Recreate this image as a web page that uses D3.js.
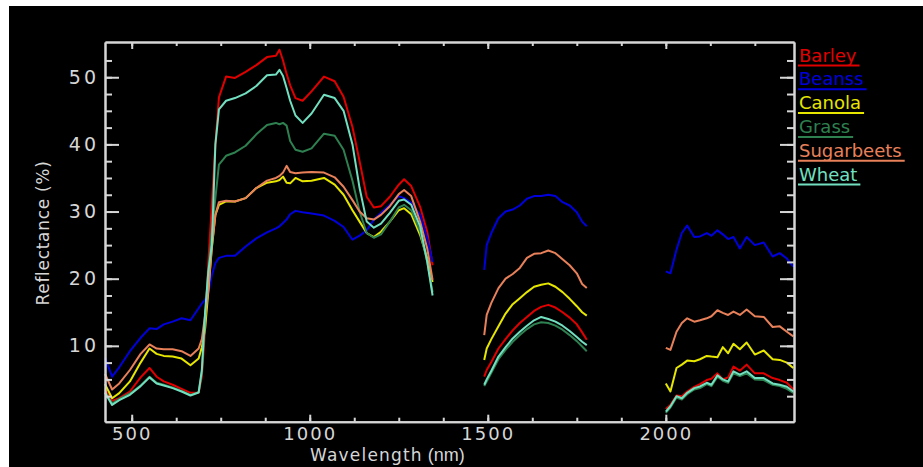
<!DOCTYPE html>
<html>
<head>
<meta charset="utf-8">
<script src="https://cdn.jsdelivr.net/npm/d3@7"></script>
<style>
  body { margin: 0; background: #ffffff; }
  svg { display: block; }
</style>
</head>
<body>
<div id="container"></div>
<script>
// Crop reflectance spectra, three measured bands with water-absorption gaps

//### DATA ###
const seriesNames = [ 'Barley', 'Beanss', 'Canola', 'Grass', 'Sugarbeets', 'Wheat' ];

//>>> Wavelength grids (nm) of the three bands
const wavelengthsVis = [ 425, 445, 465, 495, 525, 550, 570, 590, 615, 640, 665, 688, 697, 706, 715, 725, 735, 745, 765, 790, 820, 850, 880, 905, 915, 925, 935, 945, 960, 980, 1005, 1040, 1070, 1095, 1120, 1140, 1160, 1180, 1200, 1225, 1250, 1265, 1285, 1310, 1330, 1345 ];
const wavelengthsSwir1 = [ 1490, 1497, 1510, 1530, 1550, 1570, 1590, 1610, 1630, 1650, 1670, 1690, 1710, 1730, 1750, 1765, 1778 ];
const wavelengthsSwir2 = [ 2000, 2013, 2030, 2045, 2060, 2080, 2096, 2115, 2128, 2145, 2160, 2175, 2190, 2208, 2227, 2250, 2275, 2300, 2320, 2340, 2358 ];

//>>> Reflectance (%) per crop and band
const barleyVis = [ 3.5, 1.8, 2.2, 3.2, 5.3, 6.7, 5.4, 4.7, 4.2, 3.6, 3.0, 3.05, 5.4, 12.4, 22.3, 31, 40, 47, 50.1, 49.9, 50.8, 51.8, 53.0, 53.2, 54.1, 52.5, 50.5, 48.8, 46.9, 46.5, 47.9, 50.1, 49.4, 47.1, 42.6, 37.5, 32.2, 30.6, 30.8, 32.2, 34.0, 34.8, 33.8, 30.7, 27, 22 ];
const beansVis = [ 8.2, 5.4, 6.8, 9.2, 11.2, 12.6, 12.5, 13.2, 13.6, 14.1, 13.8, 15.6, 16.3, 16.9, 17.8, 20.5, 22.3, 23.1, 23.4, 23.4, 24.8, 26.0, 26.9, 27.5, 27.8, 28.3, 28.8, 29.6, 30.1, 29.9, 29.7, 29.4, 28.6, 27.7, 25.8, 26.4, 27.2, 28.8, 29.8, 31.0, 32.3, 32.0, 31.3, 29.5, 26, 22.5 ];
const canolaVis = [ 4.3, 2.2, 2.95, 4.7, 7.5, 9.6, 8.8, 8.5, 8.4, 8.1, 7.1, 8.1, 9.8, 12.5, 18, 24.5, 29.5, 31.0, 31.5, 31.5, 32.0, 33.5, 34.3, 34.5, 34.7, 35.2, 34.3, 34.2, 35.0, 34.5, 34.6, 35.0, 34.0, 32.5, 30.2, 28.5, 26.8, 26.2, 27.0, 28.5, 30.2, 30.5, 29.6, 26.5, 23, 19.5 ];
const grassVis = [ 3.2, 1.4, 2.1, 2.9, 4.1, 5.4, 4.5, 4.2, 3.8, 3.3, 2.7, 3.1, 6.0, 14, 21, 27, 32, 37.0, 38.3, 38.8, 39.8, 41.5, 42.9, 43.2, 43.0, 43.2, 42.8, 40.5, 39.2, 38.9, 39.4, 41.6, 41.3, 39.2, 34.6, 30.0, 26.8, 26.1, 26.6, 28.5, 30.6, 31.0, 30.2, 27.0, 22.5, 18 ];
const sugarbeetsVis = [ 5.8, 3.5, 4.4, 6.4, 8.8, 10.2, 9.6, 9.5, 9.5, 9.2, 8.5, 9.6, 11.0, 14.5, 18.3, 24.8, 29.5, 31.4, 31.6, 31.5, 32.0, 33.5, 34.6, 35.0, 35.3, 35.8, 36.8, 35.9, 35.7, 35.8, 35.9, 35.8, 35.1, 33.7, 31.7, 30.0, 29.0, 28.8, 29.5, 30.8, 32.6, 33.2, 32.3, 28.5, 24.5, 19.8 ];
const wheatVis = [ 3.0, 1.2, 1.9, 2.7, 4.0, 5.3, 4.4, 4.1, 3.7, 3.2, 2.6, 3.05, 6.4, 14.9, 21, 25, 40, 45.2, 46.5, 46.9, 47.6, 48.7, 50.3, 50.4, 51.1, 50.2, 48.4, 46.5, 44.3, 43.2, 44.6, 47.4, 46.9, 45.0, 40.0, 33.5, 28.5, 27.6, 28.2, 29.8, 31.6, 31.8, 31.0, 27.8, 22.5, 17.5 ];

const barleySwir1 = [ 5.4, 6.4, 7.6, 9.6, 11.0, 12.3, 13.4, 14.3, 15.2, 15.8, 16.1, 15.7, 15.0, 14.2, 13.2, 12.0, 10.9 ];
const beansSwir1 = [ 21.3, 25.0, 26.8, 29.0, 30.0, 30.3, 30.9, 31.9, 32.3, 32.3, 32.5, 32.3, 31.4, 30.9, 29.9, 28.5, 27.8 ];
const canolaSwir1 = [ 7.9, 9.6, 11.0, 12.9, 14.8, 16.2, 17.1, 18.0, 18.8, 19.1, 19.3, 18.8, 18.0, 17.0, 15.9, 15.0, 14.5 ];
const grassSwir1 = [ 4.0, 4.7, 6.0, 8.0, 9.4, 10.6, 11.6, 12.5, 13.2, 13.5, 13.4, 13.0, 12.4, 11.6, 10.7, 9.9, 9.2 ];
const sugarbeetsSwir1 = [ 11.6, 14.6, 16.4, 18.6, 20.0, 20.7, 21.6, 23.1, 23.7, 23.8, 24.2, 23.8, 22.9, 22.0, 20.8, 19.2, 18.6 ];
const wheatSwir1 = [ 4.2, 5.0, 6.3, 8.4, 9.8, 11.1, 12.1, 13.0, 13.8, 14.3, 14.0, 13.6, 13.0, 12.2, 11.3, 10.6, 10.1 ];

const barleySwir2 = [ 0.6, 1.2, 2.6, 2.5, 3.2, 3.9, 4.3, 4.9, 5.1, 5.9, 5.0, 5.3, 6.9, 6.3, 7.2, 5.9, 5.9, 5.2, 4.9, 4.5, 3.5 ];
const beansSwir2 = [ 21.1, 20.8, 24.3, 26.8, 27.9, 26.2, 26.3, 26.8, 26.4, 27.2, 26.6, 25.9, 26.2, 24.5, 26.2, 25.0, 25.4, 23.3, 23.8, 23.0, 21.8 ];
const canolaSwir2 = [ 4.4, 3.2, 6.7, 7.2, 7.8, 7.7, 8.0, 8.5, 8.4, 8.3, 9.8, 8.9, 10.3, 9.5, 10.5, 8.7, 9.3, 8.0, 7.9, 7.5, 6.7 ];
const grassSwir2 = [ 0.0, 0.8, 2.3, 2.0, 2.8, 3.5, 3.7, 4.3, 4.0, 5.4, 4.8, 4.5, 5.9, 5.5, 5.9, 5.0, 4.9, 4.2, 4.0, 3.6, 3.0 ];
const sugarbeetsSwir2 = [ 9.7, 9.4, 12.1, 13.4, 14.1, 13.6, 13.8, 14.1, 14.4, 15.3, 14.9, 14.6, 15.1, 14.6, 15.4, 14.4, 14.3, 12.8, 12.9, 12.1, 11.4 ];
const wheatSwir2 = [ 0.2, 1.0, 2.5, 2.2, 3.0, 3.7, 3.95, 4.5, 4.2, 5.6, 5.0, 4.7, 6.2, 5.7, 6.2, 5.2, 5.2, 4.4, 4.2, 3.9, 3.2 ];

//>>> Ticks
const xTicksMajor = [ 500, 1000, 1500, 2000 ];
const xTicksMinor = [ 500, 625, 750, 875, 1000, 1125, 1250, 1375, 1500, 1625, 1750, 1875, 2000, 2125, 2250 ];
const yTicksMajor = [ 10, 20, 30, 40, 50 ];
const yTicksMinor = [ 2.5, 5, 7.5, 10, 12.5, 15, 17.5, 20, 22.5, 25, 27.5, 30, 32.5, 35, 37.5, 40, 42.5, 45, 47.5, 50, 52.5 ];


//### BUILD THE CHART ###
const width = 923;
const height = 467;
const plot = { left: 105, right: 794, top: 42, bottom: 421.7 };
const axisColor = '#d6d6d6';
const colors = [ '#e00000', '#0000dc', '#e6e600', '#2e8050', '#e8805a', '#72e0c0' ];

const seriesBands = [
  [ barleyVis, barleySwir1, barleySwir2 ],
  [ beansVis, beansSwir1, beansSwir2 ],
  [ canolaVis, canolaSwir1, canolaSwir2 ],
  [ grassVis, grassSwir1, grassSwir2 ],
  [ sugarbeetsVis, sugarbeetsSwir1, sugarbeetsSwir2 ],
  [ wheatVis, wheatSwir1, wheatSwir2 ]
];
const bandWavelengths = [ wavelengthsVis, wavelengthsSwir1, wavelengthsSwir2 ];

const svg = d3.select( '#container' )
  .append( 'svg' )
  .attr( 'width', width )
  .attr( 'height', height );

//>>> Black canvas (image has a thin white margin top/left)
svg.append( 'rect' )
  .attr( 'x', 9 ).attr( 'y', 6 )
  .attr( 'width', width - 9 ).attr( 'height', height - 6 )
  .attr( 'fill', '#000000' );

//_____ SCALES _____
const x = d3.scaleLinear().domain( [ 425, 2360 ] ).range( [ plot.left, plot.right ] );
const y = d3.scaleLinear().domain( [ -1.3, 55.25 ] ).range( [ plot.bottom, plot.top ] );

//_____ LINES _____
const line = d3.line()
  .x( d => x( d.nm ) )
  .y( d => y( d.v ) );

const lineData = [];
seriesNames.forEach( ( name, i ) => {
  seriesBands[ i ].forEach( ( vals, b ) => {
    lineData.push( {
      name: name,
      color: colors[ i ],
      points: vals.map( ( v, k ) => ( { nm: bandWavelengths[ b ][ k ], v: v } ) )
    } );
  } );
} );

svg.append( 'g' )
  .selectAll( 'path' )
  .data( lineData )
  .enter()
  .append( 'path' )
  .attr( 'd', d => line( d.points ) )
  .attr( 'fill', 'none' )
  .attr( 'stroke', d => d.color )
  .attr( 'stroke-width', 2 )
  .attr( 'stroke-linejoin', 'round' );

//_____ AXES (box with inward ticks) _____
function styleAxis ( g, size, spacing ) {
  g.selectAll( 'path, line' ).attr( 'stroke', axisColor ).attr( 'stroke-width', 2 );
  g.selectAll( 'text' )
    .attr( 'fill', axisColor )
    .style( 'font-family', '"DejaVu Sans", sans-serif' )
    .style( 'font-size', size + 'px' )
    .style( 'letter-spacing', spacing + 'px' );
}

function addAxis ( axis, tx, ty, size = 18, spacing = 1.5 ) {
  svg.append( 'g' )
    .attr( 'transform', `translate(${tx},${ty})` )
    .call( axis )
    .call( styleAxis, size, spacing );
}

//>>> bottom
addAxis( d3.axisBottom( x ).tickValues( xTicksMinor ).tickSizeInner( -4 ).tickSizeOuter( 0 ).tickFormat( '' ), 0, plot.bottom );
addAxis( d3.axisBottom( x ).tickValues( xTicksMajor ).tickSizeInner( -7 ).tickSizeOuter( 0 ).tickPadding( 6 ).tickFormat( d3.format( 'd' ) ), 0, plot.bottom, 18, 2 );
//>>> top
addAxis( d3.axisTop( x ).tickValues( xTicksMinor ).tickSizeInner( -4 ).tickSizeOuter( 0 ).tickFormat( '' ), 0, plot.top );
addAxis( d3.axisTop( x ).tickValues( xTicksMajor ).tickSizeInner( -7 ).tickSizeOuter( 0 ).tickFormat( '' ), 0, plot.top );
//>>> left
addAxis( d3.axisLeft( y ).tickValues( yTicksMinor ).tickSizeInner( -7 ).tickSizeOuter( 0 ).tickFormat( '' ), plot.left, 0 );
addAxis( d3.axisLeft( y ).tickValues( yTicksMajor ).tickSizeInner( -14 ).tickSizeOuter( 0 ).tickPadding( 6 ), plot.left, 0, 19, 3 );
//>>> right
addAxis( d3.axisRight( y ).tickValues( yTicksMinor ).tickSizeInner( -7 ).tickSizeOuter( 0 ).tickFormat( '' ), plot.right, 0 );
addAxis( d3.axisRight( y ).tickValues( yTicksMajor ).tickSizeInner( -14 ).tickSizeOuter( 0 ).tickFormat( '' ), plot.right, 0 );

//_____ AXIS TITLES _____
svg.append( 'text' )
  .attr( 'transform', 'translate(43, 233) rotate(-90)' )
  .attr( 'text-anchor', 'middle' )
  .attr( 'dominant-baseline', 'central' )
  .attr( 'fill', axisColor )
  .style( 'font-family', '"DejaVu Sans", sans-serif' )
  .style( 'font-size', '17px' )
  .style( 'letter-spacing', '0.7px' )
  .text( 'Reflectance (%)' );

const xTitle = svg.append( 'text' )
  .attr( 'x', 310 )
  .attr( 'y', 461 )
  .attr( 'fill', axisColor );
xTitle.append( 'tspan' )
  .style( 'font-family', '"DejaVu Sans", sans-serif' )
  .style( 'font-size', '17px' )
  .style( 'letter-spacing', '1.2px' )
  .text( 'Wavelength' );
xTitle.append( 'tspan' )
  .style( 'font-family', '"Liberation Sans", Arial, sans-serif' )
  .style( 'font-size', '18px' )
  .text( ' (nm)' );

//_____ LEGEND (underlined coloured names) _____
const legend = svg.append( 'g' ).attr( 'transform', 'translate(799, 61.5)' );
const legendItem = legend.selectAll( 'g' )
  .data( seriesNames )
  .enter()
  .append( 'g' )
  .attr( 'transform', ( d, i ) => `translate(0, ${i * 23.8})` );

legendItem.append( 'text' )
  .text( d => d )
  .attr( 'fill', ( d, i ) => colors[ i ] )
  .style( 'font-family', '"DejaVu Sans", sans-serif' )
  .style( 'font-size', '18px' );

legendItem.each( function ( d, i ) {
  const item = d3.select( this );
  const len = item.select( 'text' ).node().getComputedTextLength();
  item.append( 'line' )
    .attr( 'x1', -1 ).attr( 'x2', len + 3 )
    .attr( 'y1', 4 ).attr( 'y2', 4 )
    .attr( 'stroke', colors[ i ] )
    .attr( 'stroke-width', 2 );
} );
</script>
</body>
</html>
